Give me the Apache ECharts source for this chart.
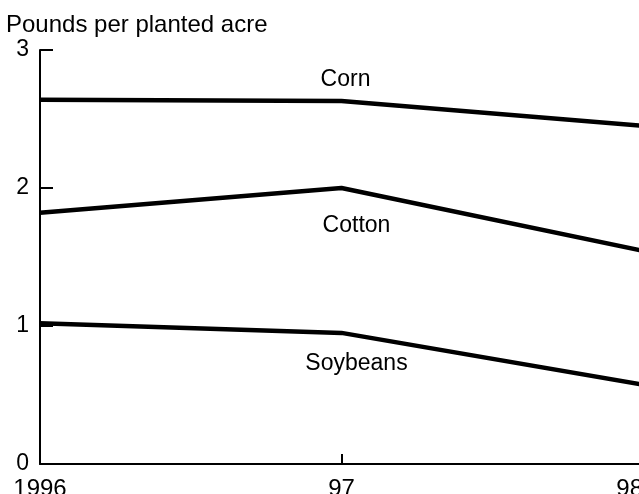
<!DOCTYPE html>
<html>
<head>
<meta charset="utf-8">
<script src="https://cdn.jsdelivr.net/npm/echarts@6/dist/echarts.min.js"></script>
<style>
html,body{margin:0;padding:0;background:#fff;}
#c{width:639px;height:494px;}
</style>
</head>
<body>
<div id="c"></div>
<script>
const categories = ['1996', '97', '98'];
const corn = [2.64, 2.63, 2.45];
const cotton = [1.82, 2.0, 1.545];
const soybeans = [1.02, 0.95, 0.575];
const yTicks = [0, 1, 2, 3];
const seriesNames = ['Corn', 'Cotton', 'Soybeans'];

const FONT = 'Liberation Sans, Arial, sans-serif';

function withLabel(values, name, pos, dist, offset) {
  return values.map((v, i) => i === 1 ? {
    value: v,
    label: {
      show: true, formatter: name, position: pos, distance: dist, offset: offset,
      color: '#000', fontSize: 23, fontFamily: FONT
    }
  } : v);
}

const chart = echarts.init(document.getElementById('c'), null, {renderer: 'canvas'});
chart.setOption({
  animation: false,
  backgroundColor: '#fff',
  title: {
    text: 'Pounds per planted acre',
    left: 1, top: 8,
    textStyle: {fontSize: 24, fontWeight: 'normal', color: '#000', fontFamily: FONT}
  },
  grid: {left: 40, right: -4, top: 50, bottom: 30, containLabel: false, outerBoundsMode: 'none'},
  xAxis: {
    type: 'category',
    data: categories,
    boundaryGap: false,
    axisLine: {lineStyle: {color: '#000', width: 2}},
    axisTick: {inside: true, length: 10, lineStyle: {color: '#000', width: 2}},
    axisLabel: {color: '#000', fontSize: 24, fontFamily: FONT, margin: 13, alignMaxLabel: 'right'}
  },
  yAxis: {
    type: 'value',
    min: yTicks[0], max: yTicks[yTicks.length - 1], interval: 1,
    splitLine: {show: false},
    axisLine: {show: true, lineStyle: {color: '#000', width: 2}},
    axisTick: {show: true, inside: true, length: 13, lineStyle: {color: '#000', width: 2}},
    axisLabel: {color: '#000', fontSize: 23, fontFamily: FONT, margin: 11}
  },
  series: [
    {name: seriesNames[0], type: 'line', data: withLabel(corn, seriesNames[0], 'top', 10, [4, 0]),
     symbol: 'circle', symbolSize: 0, showAllSymbol: true,
     lineStyle: {color: '#000', width: 4.5}, itemStyle: {color: '#000'}},
    {name: seriesNames[1], type: 'line', data: withLabel(cotton, seriesNames[1], 'bottom', 26, [15, 0]),
     symbol: 'circle', symbolSize: 0, showAllSymbol: true,
     lineStyle: {color: '#000', width: 4.5}, itemStyle: {color: '#000'}},
    {name: seriesNames[2], type: 'line', data: withLabel(soybeans, seriesNames[2], 'bottom', 19, [15, 0]),
     symbol: 'circle', symbolSize: 0, showAllSymbol: true,
     lineStyle: {color: '#000', width: 4.5}, itemStyle: {color: '#000'}}
  ]
});
</script>
</body>
</html>
